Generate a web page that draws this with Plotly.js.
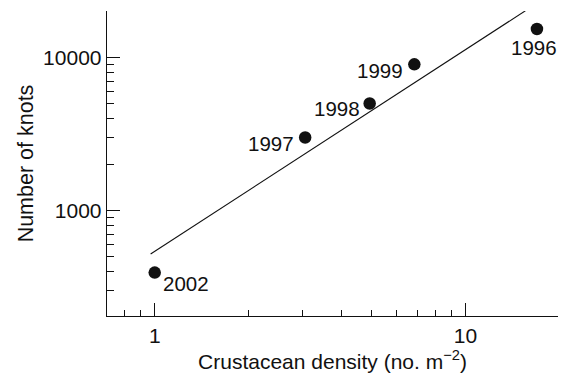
<!DOCTYPE html>
<html>
<head>
<meta charset="utf-8">
<script src="https://cdn.plot.ly/plotly-3.0.1.min.js"></script>
<style>
  html, body { margin: 0; padding: 0; background: #fff; }
  #chart { width: 569px; height: 379px; }
</style>
</head>
<body>
<div id="chart"></div>
<script>
// Knot numbers against crustacean prey density, by year (log-log)
const years = ['1996', '1997', '1998', '1999', '2002'];
const density = [17.0, 3.05, 4.92, 6.85, 1.0];
const knots = [15300, 3000, 5000, 9000, 395];

// Fitted power-law line, two end points
const fitX = [0.97, 15.6];
const fitY = [522, 20100];

// Axis ticks
const xMajor = [1, 10];
const xMajorText = ['1', '10'];
const xMinor = [0.8, 0.9, 2, 3, 4, 5, 6, 7, 8, 9];
const yMajor = [1000, 10000];
const yMajorText = ['1000', '10000'];
const yMinor = [300, 400, 500, 600, 700, 800, 900, 2000, 3000, 4000, 5000, 6000, 7000, 8000, 9000];

// Where each year label sits relative to its dot
const labelPlace = {
  '1996': { xanchor: 'center', xshift: -3, yshift: -19 },
  '1997': { xanchor: 'right', xshift: -9, yshift: -6 },
  '1998': { xanchor: 'right', xshift: -8, yshift: -5 },
  '1999': { xanchor: 'right', xshift: -9, yshift: -6 },
  '2002': { xanchor: 'left', xshift: 6, yshift: -11 }
};

const FONT = 'Liberation Sans, Arial, Helvetica, sans-serif';
const INK = '#111';

const traces = [
  {
    x: fitX, y: fitY,
    mode: 'lines', type: 'scatter',
    line: { color: INK, width: 1.1 },
    hoverinfo: 'skip', showlegend: false
  },
  {
    x: density, y: knots,
    mode: 'markers', type: 'scatter',
    marker: { color: INK, size: 12.5, line: { width: 0 } },
    showlegend: false
  }
];

const annotations = years.map((yr, i) => Object.assign({
  x: Math.log10(density[i]),
  y: Math.log10(knots[i]),
  xref: 'x', yref: 'y',
  text: yr,
  showarrow: false,
  yanchor: 'middle',
  font: { family: FONT, size: 20.5, color: INK }
}, labelPlace[yr]));

const axisCommon = {
  type: 'log',
  showgrid: false,
  zeroline: false,
  showline: true,
  linecolor: INK,
  linewidth: 1.3,
  ticks: 'inside',
  ticklen: 13,
  tickwidth: 1,
  tickcolor: INK,
  tickfont: { family: FONT, size: 21, color: INK },
  tickmode: 'array',
  automargin: false,
  mirror: false
};

const layout = {
  width: 569, height: 379,
  margin: { l: 107, r: 11, t: 11, b: 63 },
  paper_bgcolor: '#fff',
  plot_bgcolor: '#fff',
  font: { family: FONT, size: 21, color: INK },
  showlegend: false,
  xaxis: Object.assign({}, axisCommon, {
    range: [Math.log10(0.702), Math.log10(19.87)],
    tickvals: xMajor,
    ticktext: xMajorText,
    minor: { tickvals: xMinor, ticks: 'inside', ticklen: 6, tickwidth: 1, tickcolor: INK },
    title: { text: 'Crustacean density (no. m<sup>\u22122</sup>)', font: { family: FONT, size: 21, color: INK }, standoff: 8 }
  }),
  yaxis: Object.assign({}, axisCommon, {
    range: [Math.log10(206), Math.log10(20040)],
    tickvals: yMajor,
    ticktext: yMajorText,
    minor: { tickvals: yMinor, ticks: 'inside', ticklen: 7, tickwidth: 1, tickcolor: INK },
    title: { text: 'Number of knots', font: { family: FONT, size: 21.5, color: INK }, standoff: 3 }
  }),
  annotations: annotations
};

Plotly.newPlot('chart', traces, layout, { staticPlot: true, displayModeBar: false });
</script>
</body>
</html>
